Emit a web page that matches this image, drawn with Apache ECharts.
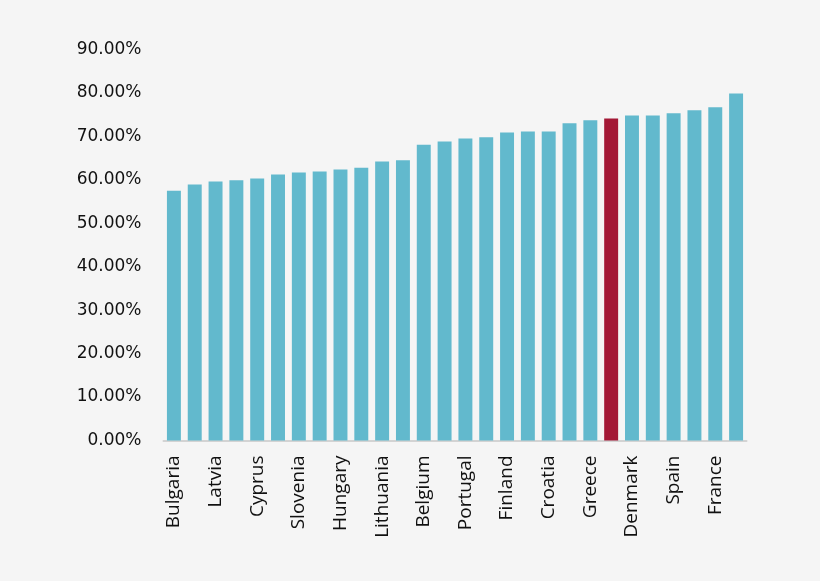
<!DOCTYPE html>
<html>
<head>
<meta charset="utf-8">
<script src="https://cdn.jsdelivr.net/npm/echarts@6/dist/echarts.min.js"></script>
<style>
html,body{margin:0;padding:0;background:#f5f5f5;}
#c{width:820px;height:581px;}
</style>
</head>
<body>
<div id="c"></div>
<script>
const categories = ["Bulgaria","Romania","Latvia","Estonia","Cyprus","Poland","Slovenia","Slovakia","Hungary","Czech Republic","Lithuania","Malta","Belgium","Italy","Portugal","Austria","Finland","Ireland","Croatia","Luxembourg","Greece","Netherlands","Denmark","Germany","Spain","Sweden","France","United Kingdom"];
const values = [57.5,58.9,59.6,59.9,60.3,61.2,61.7,61.9,62.4,62.8,64.2,64.5,68.1,68.8,69.5,69.8,70.9,71.1,71.1,73.0,73.7,74.1,74.8,74.8,75.3,76.0,76.7,79.9];
const highlightIndex = 21;
const yTicks = [0,10,20,30,40,50,60,70,80,90];

const chart = echarts.init(document.getElementById('c'));
chart.setOption({
  backgroundColor:'#f5f5f5',
  animation:false,
  grid:{left:163.5,right:73.5,top:49.5,bottom:140.5},
  xAxis:{
    type:'category',
    data:categories,
    axisLine:{lineStyle:{color:'#d3d3d3',width:2}},
    axisTick:{show:false},
    axisLabel:{interval:1,rotate:90,margin:15,color:'#111',fontFamily:'Open Sans',fontSize:19}
  },
  yAxis:{
    type:'value',
    min:yTicks[0],max:yTicks[yTicks.length-1],interval:10,
    splitLine:{show:false},
    axisLine:{show:false},
    axisTick:{show:false},
    axisLabel:{margin:22,color:'#111',fontFamily:'DejaVu Sans',fontSize:17,padding:[4,0,0,0],formatter:v=>v.toFixed(2)+'%'}
  },
  series:[{
    type:'bar',
    barCategoryGap:'33%',
    data:values.map((v,i)=>({value:v,itemStyle:{color:i===highlightIndex?'#a31836':'#62b9cd'}}))
  }]
});
</script>
</body>
</html>
